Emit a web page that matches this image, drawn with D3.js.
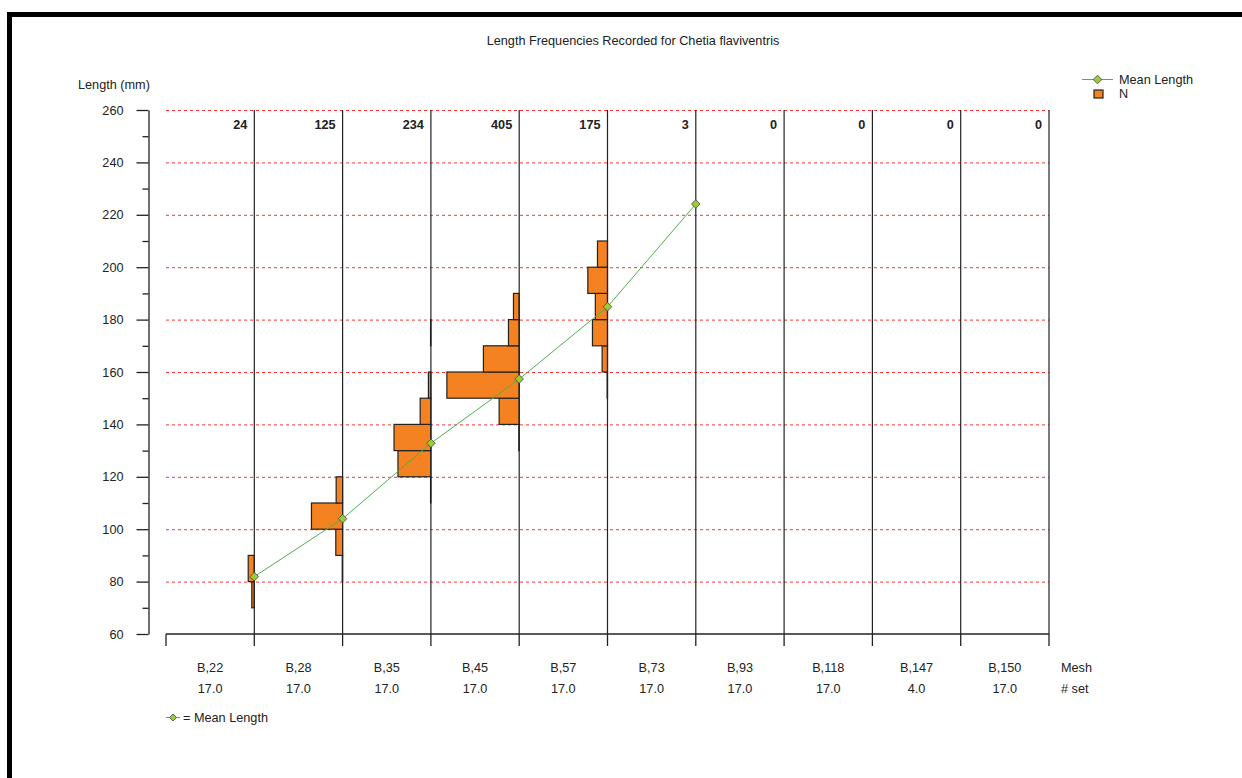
<!DOCTYPE html>
<html><head><meta charset="utf-8">
<script src="https://cdn.jsdelivr.net/npm/d3@7"></script>
<style>
body{margin:0;background:#fff;}
text{font-family:"Liberation Sans",Arial,sans-serif;font-size:12.7px;fill:#222;}
</style></head>
<body>
<svg id="c" width="1242" height="778"></svg>
<script>
// ---- data ----
const title = "Length Frequencies Recorded for Chetia flaviventris";
const meshes = ["B,22","B,28","B,35","B,45","B,57","B,73","B,93","B,118","B,147","B,150"];
const sets = ["17.0","17.0","17.0","17.0","17.0","17.0","17.0","17.0","4.0","17.0"];
const totals = [24,125,234,405,175,3,0,0,0,0];
const meanLength = [81.9,104.0,132.8,157.3,184.9,224.1,null,null,null,null];
// frequency per 10 mm class: [class lower bound, count] (as visible in the picture)
const freqB22 = [[70,7],[80,17]];
const freqB28 = [[80,1],[90,19],[100,87],[110,18]];
const freqB35 = [[110,1],[120,92],[130,103],[140,30],[150,7],[170,1]];
const freqB45 = [[130,1],[140,56],[150,202],[160,100],[170,30],[180,16]];
const freqB57 = [[150,1],[160,15],[170,42],[180,34],[190,55],[200,28]];
const freqB73 = [];
const freqs = [freqB22,freqB28,freqB35,freqB45,freqB57,freqB73,[],[],[],[]];
const yMajor = [60,80,100,120,140,160,180,200,220,240,260];
const yMinor = [70,90,110,130,150,170,190,210,230,250];

// ---- chart ----
const svg = d3.select("#c");
const x = d3.scaleBand().domain(meshes).range([166,1049]).padding(0);
const y = d3.scaleLinear().domain([60,260]).range([634,110]);
const w = d3.scaleLinear().domain([0,405]).range([0,145]);
const right = m => x(m) + x.bandwidth();

// frame
svg.append("rect").attr("x",9.5).attr("y",14.5).attr("width",1400).attr("height",900)
  .attr("fill","none").attr("stroke","#000").attr("stroke-width",5);

// title
svg.append("text").attr("x",633).attr("y",45).attr("text-anchor","middle").text(title);
svg.append("text").attr("x",78).attr("y",89).text("Length (mm)");

// grid
svg.append("g").selectAll("line").data(yMajor.filter(v=>v>60)).join("line")
  .attr("x1",166).attr("x2",1049).attr("y1",d=>y(d)+0.5).attr("y2",d=>y(d)+0.5)
  .attr("stroke","#ff3333").attr("stroke-width",1).attr("stroke-dasharray","3,3");

// y axis
const gy = svg.append("g").attr("transform","translate(148.5,0)");
gy.call(d3.axisLeft(y).tickValues(yMajor).tickSize(12).tickPadding(13).tickSizeOuter(0));
const gy2 = svg.append("g").attr("transform","translate(148.5,0)");
gy2.call(d3.axisLeft(y).tickValues(yMinor).tickSize(6).tickFormat("").tickSizeOuter(0));
gy2.select(".domain").remove();
[gy,gy2].forEach(g=>{
  g.selectAll("path,line").attr("stroke","#222").attr("stroke-width",1.3);
  g.selectAll("text").attr("font-size",12.7).attr("font-family","Liberation Sans, Arial, sans-serif").attr("fill","#222");
});

// bars
meshes.forEach((m,i)=>{
  svg.append("g").selectAll("rect").data(freqs[i]).join("rect")
    .attr("x",d=>right(m)-w(d[1])).attr("width",d=>w(d[1]))
    .attr("y",d=>y(d[0]+10)).attr("height",d=>y(d[0])-y(d[0]+10))
    .attr("fill","#f58220").attr("stroke","#222").attr("stroke-width",1.2);
});

// vertical column lines
svg.append("g").selectAll("line").data(meshes).join("line")
  .attr("x1",d=>right(d)).attr("x2",d=>right(d)).attr("y1",110).attr("y2",634)
  .attr("stroke","#222").attr("stroke-width",1.2);

// bottom axis
const gx = svg.append("g").attr("transform","translate(0,634)");
gx.append("line").attr("x1",166).attr("x2",1049).attr("stroke","#222").attr("stroke-width",1.3);
gx.selectAll(".tk").data([meshes[0]].concat(meshes)).join("line").attr("class","tk")
  .attr("x1",(d,i)=> i===0 ? x(d) : right(d)).attr("x2",(d,i)=> i===0 ? x(d) : right(d))
  .attr("y1",0).attr("y2",12).attr("stroke","#222").attr("stroke-width",1.3);

// counts
svg.append("g").selectAll("text").data(meshes).join("text")
  .attr("x",d=>right(d)-7).attr("y",129).attr("text-anchor","end")
  .attr("font-weight","bold").text((d,i)=>totals[i]);

// mesh & set labels
svg.append("g").selectAll("text").data(meshes).join("text")
  .attr("x",d=>x(d)+x.bandwidth()/2).attr("y",672).attr("text-anchor","middle").text(d=>d);
svg.append("g").selectAll("text").data(meshes).join("text")
  .attr("x",d=>x(d)+x.bandwidth()/2).attr("y",693).attr("text-anchor","middle").text((d,i)=>sets[i]);
svg.append("text").attr("x",1061).attr("y",672).text("Mesh");
svg.append("text").attr("x",1061).attr("y",693).text("# set");

// mean line
const pts = meshes.map((m,i)=>({m, v:meanLength[i]})).filter(d=>d.v!=null);
svg.append("path").datum(pts)
  .attr("d", d3.line().x(d=>right(d.m)).y(d=>y(d.v)))
  .attr("fill","none").attr("stroke","#4cb050").attr("stroke-width",1);
const diamond = (cx,cy,r)=>`M${cx},${cy-r}L${cx+r},${cy}L${cx},${cy+r}L${cx-r},${cy}Z`;
svg.append("g").selectAll("path").data(pts).join("path")
  .attr("d",d=>diamond(right(d.m),y(d.v),4.3))
  .attr("fill","#9acd32").attr("stroke","#444").attr("stroke-width",0.8);

// legend top right
svg.append("line").attr("x1",1082).attr("x2",1113).attr("y1",79.5).attr("y2",79.5)
  .attr("stroke","#4cb050").attr("stroke-width",1);
svg.append("path").attr("d",diamond(1097.5,79.5,4.3)).attr("fill","#9acd32").attr("stroke","#444").attr("stroke-width",0.8);
svg.append("text").attr("x",1119).attr("y",84).text("Mean Length");
svg.append("rect").attr("x",1094).attr("y",90).attr("width",9).attr("height",8)
  .attr("fill","#f58220").attr("stroke","#222").attr("stroke-width",1.2);
svg.append("text").attr("x",1119).attr("y",98).text("N");

// legend bottom
svg.append("line").attr("x1",166).attr("x2",180).attr("y1",717.5).attr("y2",717.5)
  .attr("stroke","#4cb050").attr("stroke-width",1);
svg.append("path").attr("d",diamond(173,717.5,3.5)).attr("fill","#9acd32").attr("stroke","#444").attr("stroke-width",0.8);
svg.append("text").attr("x",183).attr("y",722).text("= Mean Length");
</script>
</body></html>
